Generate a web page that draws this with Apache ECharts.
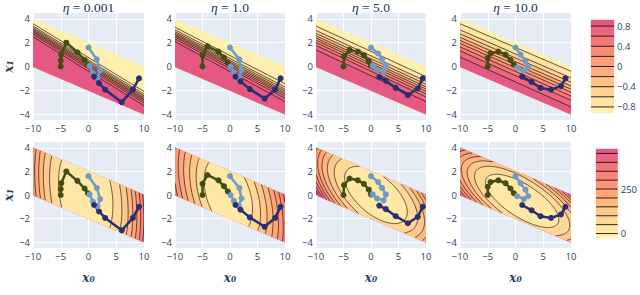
<!DOCTYPE html>
<html><head><meta charset="utf-8">
<script src="https://cdn.jsdelivr.net/npm/echarts@6/dist/echarts.min.js"></script>
<style>html,body{margin:0;padding:0;background:#fff}#c{width:640px;height:295px}</style>
</head><body><div id="c"></div>
<script>
// ---------- data ----------
const etaTitles = ['0.001', '1.0', '5.0', '10.0'];
const xTicks = [-10, -5, 0, 5, 10];
const yTicks = [-4, -2, 0, 2, 4];
// feasible region (parallelogram) corners
const regionCorners = [[-10, 0], [10, -4], [10, 0], [-10, 4]];

// top row: contour levels and where each level line meets x0=-10 and x0=10
const topLevels = [-0.8, -0.6, -0.4, -0.2, 0, 0.2, 0.4, 0.6, 0.8];
const topRange = [-0.92, 0.92];
const topBarTicks = [-0.8, -0.4, 0, 0.4, 0.8];
const topLeft1 = [3.60, 3.40, 3.27, 3.15, 3.05, 2.95, 2.84, 2.71, 2.50];
const topRight1 = [-2.10, -2.32, -2.47, -2.59, -2.70, -2.81, -2.93, -3.08, -3.30];
const topLeft2 = [3.30, 3.08, 2.93, 2.81, 2.70, 2.59, 2.47, 2.32, 2.10];
const topRight2 = [-1.45, -1.73, -1.91, -2.07, -2.20, -2.34, -2.49, -2.67, -2.95];
const topLeft3 = [3.40, 3.03, 2.79, 2.58, 2.40, 2.22, 2.01, 1.77, 1.40];
const topRight3 = [-0.85, -1.24, -1.49, -1.71, -1.90, -2.09, -2.31, -2.56, -2.95];
const topLeft4 = [3.60, 3.08, 2.75, 2.45, 2.20, 1.95, 1.65, 1.32, 0.80];
const topRight4 = [-0.40, -0.96, -1.32, -1.63, -1.90, -2.17, -2.48, -2.85, -3.40];

// bottom row: contour levels; each panel's level curves are concentric ellipses
// centre, half-width vector (to leftmost point), vertical conjugate vector, relative size per level
const botLevels = [0, 50, 100, 150, 200, 250, 300, 350, 400, 450];
const botRange = [-25, 475];
const botBarTicks = [0, 250];
const botCenter1 = [-0.5, 0.1], botSide1 = [-4.9, 1.0], botUp1 = [0, 4.3];
const botRadii1 = [0, 1, 1.33, 1.56, 1.73, 1.88, 2.02, 2.14, 2.25, 2.35];
const botCenter2 = [-0.3, 0.0], botSide2 = [-4.4, 1.2], botUp2 = [0, 3.0];
const botRadii2 = [0, 1, 1.33, 1.6, 1.85, 2.07, 2.27, 2.45, 2.6, 2.74];
const botCenter3 = [0.9, 0.0], botSide3 = [-5.7, 1.45], botUp3 = [0, 1.95];
const botRadii3 = [0, 1, 1.33, 1.55, 1.72, 1.86, 1.98, 2.09, 2.19, 2.28];
const botCenter4 = [1.2, -0.5], botSide4 = [-6.6, 1.6], botUp4 = [0, 1.6];
const botRadii4 = [0, 1, 1.3, 1.5, 1.66, 1.8, 1.93, 2.05, 2.16, 2.26];

// trajectories [x0, x1]
const olive1 = [[-5, 0], [-5, 0.5], [-4.9, 1.0], [-4, 2], [-2, 1.2], [-0.7, 0.55], [-0.1, 0.15]];
const blue1 = [[0, 1.6], [1.5, 0.6], [2.1, -0.35], [1.6, -0.95], [0.8, -0.55], [0.2, 0.05]];
const navy1 = [[9.1, -1], [8, -1.95], [6, -3], [3, -1.95], [1.9, -1.4], [1, -0.85]];
const olive2 = [[-5, 0], [-5, 0.95], [-4.1, 1.7], [-2.1, 1.25], [-1.1, 0.75], [-0.4, 0.3]];
const blue2 = [[0, 1.6], [1.7, 0.6], [2.1, -0.3], [1.6, -0.9], [0.7, -0.5], [0.1, 0.0]];
const navy2 = [[9.2, -1], [8.2, -1.95], [6.3, -2.7], [3.6, -1.9], [1.9, -1.25], [1.0, -0.85]];
const olive3 = [[-5, 0], [-4.9, 0.85], [-3.9, 1.4], [-2.4, 1.25], [-1.3, 0.95], [-0.4, 0.45], [0, 0.05]];
const blue3 = [[0, 1.6], [1.3, 1.1], [2, 0.6], [2.7, 0.05], [2.3, -0.45], [1.1, -0.3], [0.3, 0.05]];
const navy3 = [[9.4, -1], [8.5, -1.85], [6.7, -2.4], [4.5, -1.8], [2.7, -1.2], [1.5, -0.9]];
const olive4 = [[-5, 0], [-5, 0.7], [-4.5, 1.1], [-3.1, 1.25], [-1.8, 1.0], [-0.9, 0.55], [-0.3, 0.15]];
const blue4 = [[0, 1.6], [0.9, 1.0], [1.8, 0.45], [2.3, -0.1], [1.5, -0.35], [0.3, -0.1]];
const navy4 = [[9, -1], [8.2, -1.65], [6.4, -1.95], [4.5, -1.8], [2.9, -1.3], [1.2, -0.85]];

// ---------- styling ----------
const pinkyl = [[254,246,181],[255,221,154],[255,194,133],[255,166,121],[250,138,118],[241,109,122],[225,83,131]];
const trajColors = ['#414d13', '#6f9bcb', '#2c2e74'];
const colBox = [[33, 111], [175, 110], [316, 110], [460, 111]];
const rowBox = [[13, 107], [142, 106]];
const inkColor = '#2a3f5f';
const tickFont = {fontFamily: '"Open Sans", sans-serif', fontSize: 9.5, color: inkColor};
const lineColor = 'rgba(20,20,20,0.9)';

function colorAt(t) {
  t = Math.max(0, Math.min(1, t)) * (pinkyl.length - 1);
  const i = Math.min(pinkyl.length - 2, Math.floor(t)), f = t - i;
  const a = pinkyl[i], b = pinkyl[i + 1];
  return 'rgb(' + [0,1,2].map(k => Math.round(a[k] + (b[k] - a[k]) * f)).join(',') + ')';
}
function bandColor(lo, hi, range) { return colorAt(((lo + hi) / 2 - range[0]) / (range[1] - range[0])); }
const minus = v => String(v).replace('-', '\u2212');

// ---------- geometry helpers (clipping to the region) ----------
function edgeFns(clip) {
  let area = 0;
  for (let i = 0; i < clip.length; i++) { const a = clip[i], b = clip[(i + 1) % clip.length]; area += a[0] * b[1] - b[0] * a[1]; }
  const s = area > 0 ? 1 : -1;
  return clip.map((a, i) => { const b = clip[(i + 1) % clip.length];
    return p => s * ((b[0] - a[0]) * (p[1] - a[1]) - (b[1] - a[1]) * (p[0] - a[0])); });
}
const regionFns = edgeFns(regionCorners);
function clipPolygon(poly) {
  let out = poly;
  for (const f of regionFns) {
    const inp = out; out = [];
    for (let i = 0; i < inp.length; i++) {
      const p = inp[i], q = inp[(i + 1) % inp.length], fp = f(p), fq = f(q);
      if (fp >= 0) out.push(p);
      if ((fp >= 0) !== (fq >= 0)) { const t = fp / (fp - fq); out.push([p[0] + t * (q[0] - p[0]), p[1] + t * (q[1] - p[1])]); }
    }
    if (!out.length) break;
  }
  return out;
}
function clipPolyline(pts) {
  const lines = []; let cur = null;
  for (let i = 0; i < pts.length - 1; i++) {
    const a = pts[i], b = pts[i + 1]; let t0 = 0, t1 = 1, ok = true;
    for (const f of regionFns) {
      const fa = f(a), fb = f(b);
      if (fa < 0 && fb < 0) { ok = false; break; }
      if (fa < 0) t0 = Math.max(t0, fa / (fa - fb));
      else if (fb < 0) t1 = Math.min(t1, fa / (fa - fb));
    }
    if (!ok || t0 > t1) { cur = null; continue; }
    const pa = [a[0] + t0 * (b[0] - a[0]), a[1] + t0 * (b[1] - a[1])];
    const pb = [a[0] + t1 * (b[0] - a[0]), a[1] + t1 * (b[1] - a[1])];
    if (!cur || t0 > 0) { cur = [pa]; lines.push(cur); }
    cur.push(pb);
    if (t1 < 1) cur = null;
  }
  return lines;
}

function topShapes(left, right) {
  const fills = [{poly: regionCorners, color: bandColor(topRange[0], topLevels[0], topRange)}];
  const lines = [];
  topLevels.forEach((lv, k) => {
    const hi = k + 1 < topLevels.length ? topLevels[k + 1] : topRange[1];
    fills.push({poly: clipPolygon([[-10, left[k]], [10, right[k]], [10, -60], [-10, -60]]), color: bandColor(lv, hi, topRange)});
    clipPolyline([[-10, left[k]], [10, right[k]]]).forEach(l => lines.push(l));
  });
  return {fills, lines};
}
function ellipse(c, side, up, r) {
  const pts = [], N = 240;
  for (let i = 0; i <= N; i++) { const t = 2 * Math.PI * i / N;
    pts.push([c[0] + r * (Math.cos(t) * side[0] + Math.sin(t) * up[0]), c[1] + r * (Math.cos(t) * side[1] + Math.sin(t) * up[1])]); }
  return pts;
}
function botShapes(c, side, up, radii) {
  const n = botLevels.length;
  const fills = [{poly: regionCorners, color: bandColor(botLevels[n - 1], botRange[1], botRange)}];
  const lines = [];
  for (let k = n - 1; k >= 1; k--) {
    if (radii[k] <= 0) continue;
    const pts = ellipse(c, side, up, radii[k]);
    const poly = clipPolygon(pts.slice(0, -1));
    if (poly.length) fills.push({poly, color: bandColor(botLevels[k - 1], botLevels[k], botRange)});
    clipPolyline(pts).forEach(l => lines.push(l));
  }
  return {fills, lines};
}

const panelShapes = [
  topShapes(topLeft1, topRight1), topShapes(topLeft2, topRight2), topShapes(topLeft3, topRight3), topShapes(topLeft4, topRight4),
  botShapes(botCenter1, botSide1, botUp1, botRadii1), botShapes(botCenter2, botSide2, botUp2, botRadii2),
  botShapes(botCenter3, botSide3, botUp3, botRadii3), botShapes(botCenter4, botSide4, botUp4, botRadii4)
];
const trajs = [[olive1, blue1, navy1], [olive2, blue2, navy2], [olive3, blue3, navy3], [olive4, blue4, navy4]];

// ---------- option ----------
const grid = [], xAxis = [], yAxis = [], series = [], graphic = [];
for (let row = 0; row < 2; row++) for (let col = 0; col < 4; col++) {
  const g = row * 4 + col;
  grid.push({left: colBox[col][0], width: colBox[col][1], top: rowBox[row][0], height: rowBox[row][1],
    show: true, backgroundColor: '#e5ecf6', borderWidth: 0});
  xAxis.push({gridIndex: g, type: 'value', min: -10, max: 10, interval: 5,
    axisLine: {show: false}, axisTick: {show: false},
    axisLabel: Object.assign({margin: 3, formatter: minus}, tickFont),
    splitLine: {lineStyle: {color: '#ffffff', width: 1}},
    name: row === 1 ? 'x\u2080' : '', nameLocation: 'middle', nameGap: 24,
    nameTextStyle: {fontFamily: '"DejaVu Serif", serif', fontStyle: 'italic', fontWeight: 'bold', fontSize: 12, color: inkColor}});
  yAxis.push({gridIndex: g, type: 'value', min: -4.5, max: 4.5,
    axisLine: {show: false}, axisTick: {show: false, customValues: yTicks},
    axisLabel: Object.assign({margin: 3, formatter: minus, customValues: yTicks}, tickFont),
    splitLine: {lineStyle: {color: '#ffffff', width: 1}},
    name: col === 0 ? 'x\u2081' : '', nameLocation: 'middle', nameRotate: 90, nameGap: 17,
    nameTextStyle: {fontFamily: '"DejaVu Serif", serif', fontStyle: 'italic', fontWeight: 'bold', fontSize: 12, color: inkColor}});
  const shp = panelShapes[g];
  series.push({type: 'custom', xAxisIndex: g, yAxisIndex: g, data: [[0, 0]], encode: {x: 0, y: 1},
    silent: true, z: 1, clip: true,
    renderItem: (params, api) => {
      const children = [];
      shp.fills.forEach(f => { if (f.poly.length > 2) children.push({type: 'polygon',
        shape: {points: f.poly.map(p => api.coord(p))}, style: {fill: f.color, stroke: f.color, lineWidth: 0.4}}); });
      shp.lines.forEach(l => children.push({type: 'polyline',
        shape: {points: l.map(p => api.coord(p))}, style: {stroke: lineColor, lineWidth: 0.75, fill: null}}));
      return {type: 'group', children};
    }});
  trajs[col].forEach((tr, i) => series.push({type: 'line', xAxisIndex: g, yAxisIndex: g, data: tr,
    symbol: 'circle', symbolSize: 6, showSymbol: true, z: 5, silent: true, clip: false,
    lineStyle: {width: 2.5, color: trajColors[i]}, itemStyle: {color: trajColors[i]}}));
  if (row === 0) graphic.push({type: 'text', x: colBox[col][0] + colBox[col][1] / 2, y: 7,
    style: {text: '{e|\u03b7} = ' + etaTitles[col], fontFamily: '"Liberation Serif", serif', fontSize: 13.5, fill: '#22344f',
      align: 'center', verticalAlign: 'middle',
      rich: {e: {fontFamily: '"Liberation Serif", serif', fontStyle: 'italic', fontSize: 13.5, fill: '#22344f'}}}});
}
// colourbars
const bars = [
  {left: 591, top: 20, width: 23, height: 93, levels: topLevels, range: topRange, ticks: topBarTicks},
  {left: 596, top: 149, width: 23, height: 89, levels: botLevels, range: botRange, ticks: botBarTicks}
];
bars.forEach(b => {
  const g = grid.length;
  grid.push({left: b.left, top: b.top, width: b.width, height: b.height, show: false});
  xAxis.push({gridIndex: g, type: 'value', min: 0, max: 1, show: false});
  yAxis.push({gridIndex: g, type: 'value', min: b.range[0], max: b.range[1], position: 'right',
    axisLine: {show: false}, axisTick: {show: false, customValues: b.ticks}, splitLine: {show: false},
    axisLabel: Object.assign({margin: 3, formatter: minus, customValues: b.ticks}, tickFont)});
  const edges = [b.range[0]].concat(b.levels, [b.range[1]]);
  series.push({type: 'custom', xAxisIndex: g, yAxisIndex: g, data: [[0, 0]], encode: {x: 0, y: 1}, silent: true,
    renderItem: (params, api) => {
      const children = [];
      for (let i = 0; i < edges.length - 1; i++) {
        const p0 = api.coord([0, edges[i + 1]]), p1 = api.coord([1, edges[i]]);
        children.push({type: 'rect', shape: {x: p0[0], y: p0[1], width: p1[0] - p0[0], height: p1[1] - p0[1]},
          style: {fill: bandColor(edges[i], edges[i + 1], b.range), stroke: bandColor(edges[i], edges[i + 1], b.range), lineWidth: 0.4}});
      }
      b.levels.forEach(lv => { const p0 = api.coord([0, lv]), p1 = api.coord([1, lv]);
        children.push({type: 'line', shape: {x1: p0[0], y1: p0[1], x2: p1[0], y2: p1[1]}, style: {stroke: lineColor, lineWidth: 1}}); });
      return {type: 'group', children};
    }});
});

const chart = echarts.init(document.getElementById('c'), null, {renderer: 'svg', width: 640, height: 295});
chart.setOption({animation: false, backgroundColor: '#ffffff', grid, xAxis, yAxis, series, graphic});
</script></body></html>
